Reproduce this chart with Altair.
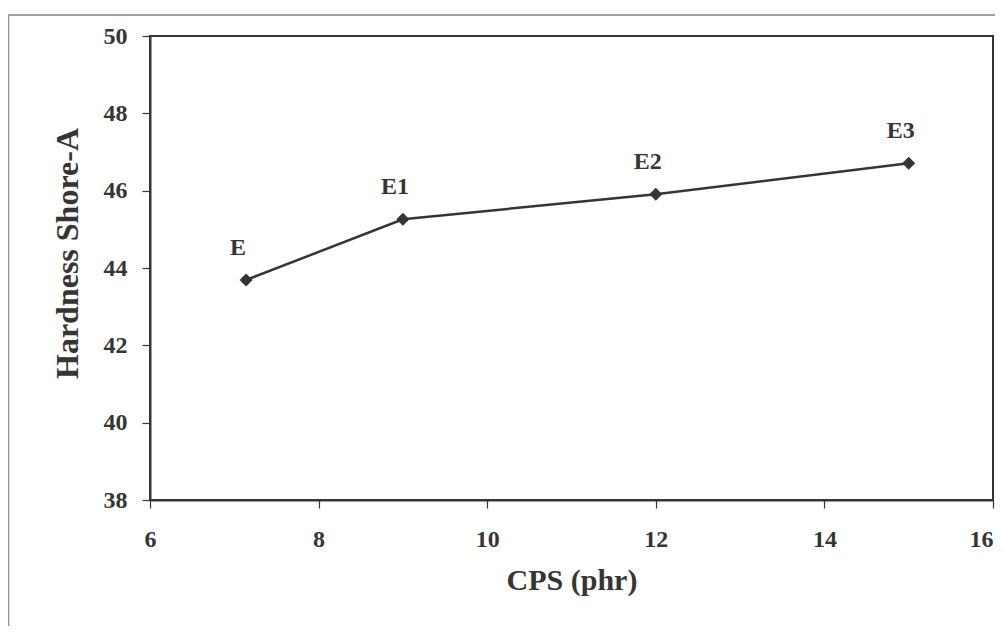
import altair as alt
import pandas as pd

cps = [7.14, 9.0, 12.0, 15.0]
hardness = [43.69, 45.26, 45.91, 46.71]
labels = ["E", "E1", "E2", "E3"]
x_ticks = [6, 8, 10, 12, 14, 16]
y_ticks = [38, 40, 42, 44, 46, 48, 50]

df = pd.DataFrame({"cps": cps, "hardness": hardness, "label": labels})

FONT = "Liberation Serif"
INK = "#353535"

x_enc = alt.X("cps:Q", scale=alt.Scale(domain=[6, 16], nice=False, zero=False),
              axis=alt.Axis(title="CPS (phr)", values=x_ticks, format="d", grid=False,
                            tickSize=8, labelPadding=19, titlePadding=14,
                            labelAlign=alt.expr("datum.value == 16 ? 'right' : 'center'"),
                            labelFontSize=24, titleFontSize=30,
                            labelFont=FONT, titleFont=FONT,
                            labelFontWeight="bold", titleFontWeight="bold",
                            labelColor=INK, titleColor=INK, tickColor=INK,
                            domainColor=INK, domainWidth=2, tickWidth=1.2,
                            labelFlush=False, labelOverlap=False))
y_enc = alt.Y("hardness:Q", scale=alt.Scale(domain=[38, 50], nice=False, zero=False),
              axis=alt.Axis(title="Hardness Shore-A", values=y_ticks, format="d", grid=False,
                            tickSize=8, labelPadding=15,
                            titleX=-66, titleY=217, titleAngle=270,
                            titleAlign="center", titleBaseline="bottom",
                            labelFontSize=24, titleFontSize=32,
                            labelFont=FONT, titleFont=FONT,
                            labelFontWeight="bold", titleFontWeight="bold",
                            labelColor=INK, titleColor=INK, tickColor=INK,
                            domainColor=INK, domainWidth=2, tickWidth=1.2,
                            labelFlush=False, labelOverlap=False))

base = alt.Chart(df)

line = base.mark_line(color=INK, strokeWidth=2.5).encode(x=x_enc, y=y_enc)
pts = base.mark_point(shape="diamond", filled=True, size=170, color=INK, opacity=1).encode(
    x="cps:Q", y="hardness:Q")
txt = base.mark_text(font=FONT, fontWeight="bold", fontSize=24, color=INK,
                     dx=-8, dy=-32, baseline="middle", align="center").encode(
    x="cps:Q", y="hardness:Q", text="label:N")

frame_left = alt.Chart(df).mark_rule(color="#9a9a9a", strokeWidth=1.2).encode(
    x=alt.value(-141.5), y=alt.value(-21), y2=alt.value(620))
frame_top = alt.Chart(df).mark_rule(color="#9a9a9a", strokeWidth=1.2).encode(
    x=alt.value(-141.5), x2=alt.value(900), y=alt.value(-21))

chart = alt.layer(frame_left, frame_top, line, pts, txt).properties(
    width=843, height=464,
    autosize=alt.AutoSizeParams(type="none"),
    padding={"left": 142, "top": 28, "right": 2, "bottom": 126},
    background="white",
).configure_view(stroke=INK, strokeWidth=2)

chart.save("out.html", embed_options={"renderer": "svg", "actions": False})
